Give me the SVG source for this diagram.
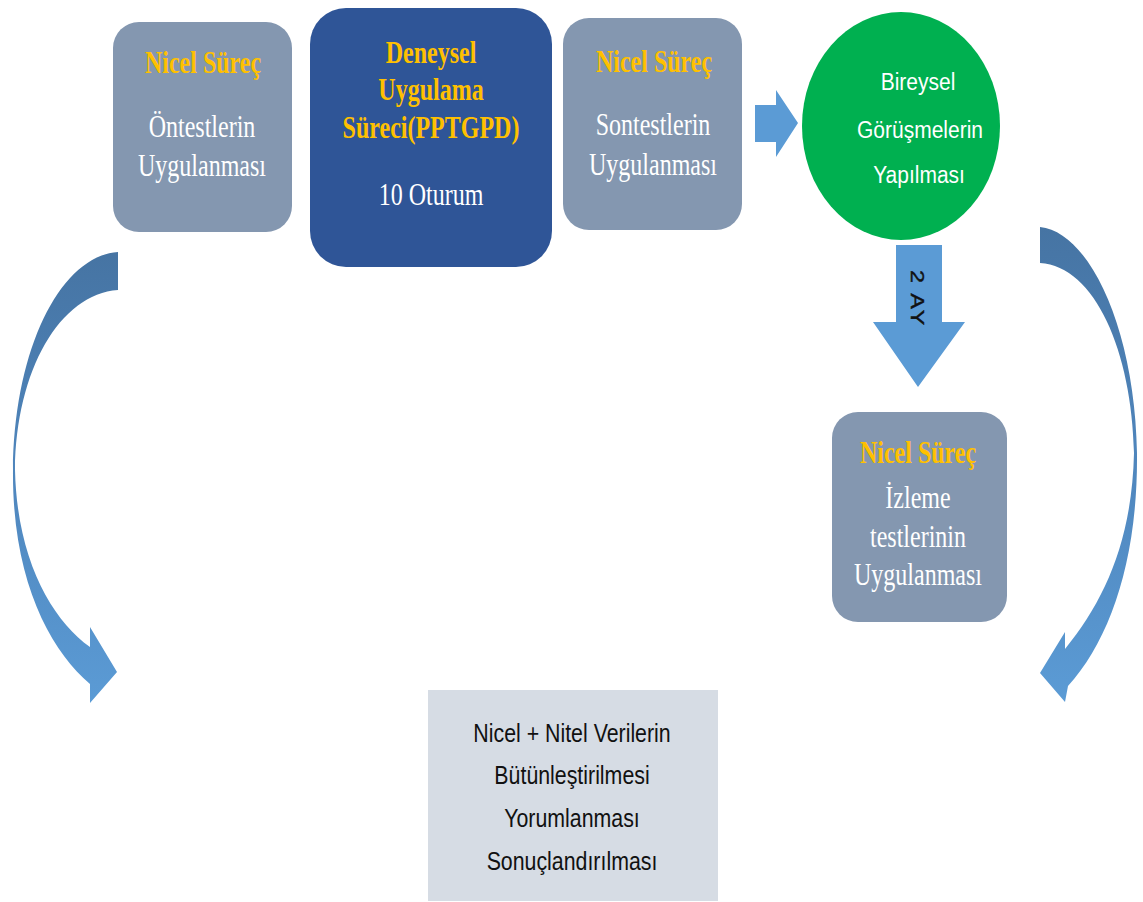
<svg xmlns="http://www.w3.org/2000/svg" width="1143" height="902" viewBox="0 0 1143 902">
<defs>
<linearGradient id="curveGrad" x1="0" y1="0" x2="0" y2="1">
<stop offset="0" stop-color="#4674a3"/>
<stop offset="0.5" stop-color="#4f86bd"/>
<stop offset="1" stop-color="#5b9bd5"/>
</linearGradient>
</defs>
<style>
.gray{fill:#8497b0}
.dark{fill:#2f5597}
.gold{font-family:"Liberation Serif",serif;font-weight:bold;font-size:24px;fill:#ffc000;text-anchor:middle}
.wser{font-family:"Liberation Serif",serif;font-size:24px;fill:#ffffff;text-anchor:middle}
.wsan{font-family:"Liberation Sans",sans-serif;font-size:21px;fill:#ffffff;text-anchor:middle}
.bsan{font-family:"Liberation Sans",sans-serif;font-size:22px;fill:#111111;text-anchor:middle}
.arr{fill:#5b9bd5}
</style>
<rect width="1143" height="902" fill="#ffffff"/>

<g id="connectors">
<path id="curve-left" fill="url(#curveGrad)" d="M118,252 C60,256 14,350 13,470 C12,580 50,650 90,684 L90,703 L117,672 L90,627 L90,647 C52,620 17,560 15,470 C16,370 60,294 118,290 Z"/>
<path id="curve-right" fill="url(#curveGrad)" d="M1040,227 C1090,232 1135,330 1137,453 C1138,560 1110,640 1068,686 L1065,702 L1040,673 L1065,632 L1065,649 C1105,600 1132,540 1134,453 C1132,352 1095,266 1040,263 Z"/>
<path id="arrow-right" class="arr" d="M755,105 L776,105 L776,90 L798,123 L776,157 L776,142 L755,142 Z"/>
<g id="arrow-down">
<path class="arr" d="M896,245 L942,245 L942,322 L965,322 L918,387 L873,322 L896,322 Z"/>
<text transform="translate(911,299) rotate(90) scale(1.3,1)" font-family="'Liberation Sans',sans-serif" font-size="18px" fill="#111111" text-anchor="middle" letter-spacing="2" stroke="#111111" stroke-width="0.4">2 AY</text>
</g>
</g>

<g id="node-ontest">
<rect class="gray" x="113" y="22" width="179" height="210" rx="26"/>
<text class="gold" transform="translate(203,73) scale(1,1.35)">Nicel Süreç</text>
<text class="wser" transform="translate(202,137) scale(1,1.35)">Öntestlerin</text>
<text class="wser" transform="translate(202,176) scale(1,1.35)">Uygulanması</text>
</g>

<g id="node-deneysel">
<rect class="dark" x="310" y="8" width="242" height="259" rx="36"/>
<text class="gold" transform="translate(431,63) scale(1,1.35)">Deneysel</text>
<text class="gold" transform="translate(431,100) scale(1,1.35)">Uygulama</text>
<text class="gold" transform="translate(431,138) scale(1,1.35)">Süreci(PPTGPD)</text>
<text class="wser" transform="translate(431,205) scale(1,1.35)">10 Oturum</text>
</g>

<g id="node-sontest">
<rect class="gray" x="563" y="18" width="179" height="212" rx="26"/>
<text class="gold" transform="translate(654,72) scale(1,1.35)">Nicel Süreç</text>
<text class="wser" transform="translate(653,135) scale(1,1.35)">Sontestlerin</text>
<text class="wser" transform="translate(653,175) scale(1,1.35)">Uygulanması</text>
</g>

<g id="node-bireysel">
<ellipse cx="901" cy="126" rx="99" ry="114" fill="#00b050"/>
<text class="wsan" transform="translate(918,90) scale(1,1.15)">Bireysel</text>
<text class="wsan" transform="translate(920,138) scale(1,1.15)">Görüşmelerin</text>
<text class="wsan" transform="translate(919,183) scale(1,1.15)">Yapılması</text>
</g>

<g id="node-izleme">
<rect class="gray" x="832" y="412" width="175" height="210" rx="26"/>
<text class="gold" transform="translate(918,463) scale(1,1.35)">Nicel Süreç</text>
<text class="wser" transform="translate(918,508) scale(1,1.35)">İzleme</text>
<text class="wser" transform="translate(918,547) scale(1,1.35)">testlerinin</text>
<text class="wser" transform="translate(918,585) scale(1,1.35)">Uygulanması</text>
</g>

<g id="node-sonuc">
<rect x="428" y="690" width="290" height="211" fill="#d6dce4"/>
<text class="bsan" transform="translate(572,742) scale(0.97,1.15)">Nicel + Nitel Verilerin</text>
<text class="bsan" transform="translate(572,784) scale(0.97,1.15)">Bütünleştirilmesi</text>
<text class="bsan" transform="translate(572,827) scale(0.97,1.15)">Yorumlanması</text>
<text class="bsan" transform="translate(572,870) scale(0.97,1.15)">Sonuçlandırılması</text>
</g>
</svg>
